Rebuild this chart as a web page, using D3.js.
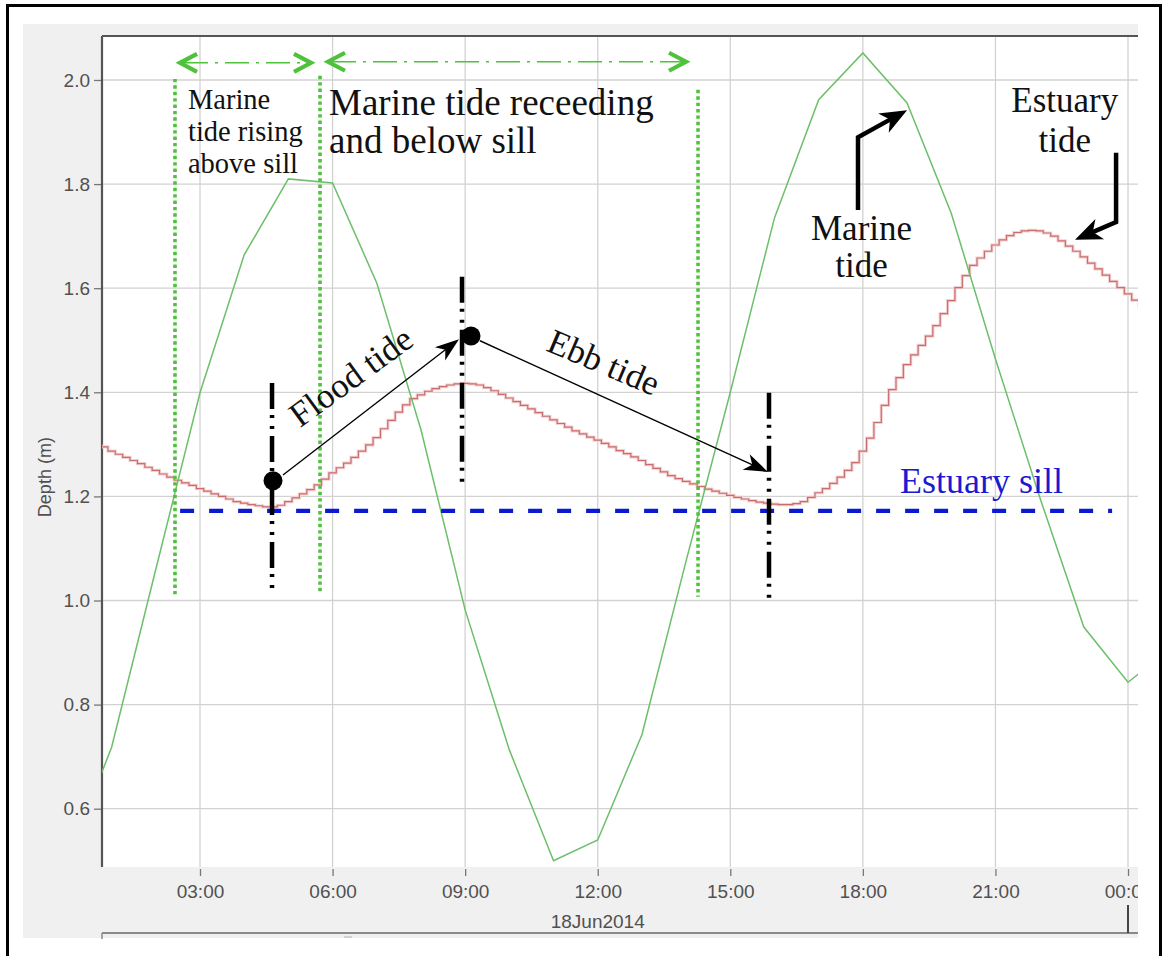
<!DOCTYPE html>
<html><head><meta charset="utf-8">
<script src="https://cdn.jsdelivr.net/npm/d3@7"></script>
<style>
html,body{margin:0;padding:0;background:#fff;}
svg{display:block;}
</style></head>
<body>
<svg id="chart" width="1163" height="956"></svg>
<script>
// ---------------- data ----------------
const marineHours = [0,1,2,3,4,5,6,7,8,9,10,11,12,13,14,15,16,17,18,19,20,21,22,23,24,25];
const marineDepth = [0.50,0.718,1.06,1.399,1.664,1.81,1.802,1.61,1.328,0.982,0.713,0.50,0.540,0.742,1.076,1.40,1.735,1.962,2.052,1.956,1.744,1.464,1.199,0.949,0.843,0.91];

// estuary gauge, 10-minute readings starting 00:40
const estuaryFirstReading = [0, 40]; // hour, minute
const estuaryDepth = [
  1.299,1.295,
  1.287,1.281,1.275,1.269,1.263,1.256,
  1.250,1.243,1.237,1.231,1.226,1.221,
  1.215,1.210,1.205,1.200,1.195,1.190,
  1.187,1.184,1.182,1.180,1.180,1.183,
  1.190,1.197,1.205,1.213,1.222,1.233,
  1.245,1.255,1.264,1.275,1.287,1.299,
  1.313,1.330,1.346,1.362,1.376,1.388,
  1.395,1.402,1.407,1.411,1.414,1.416,
  1.417,1.416,1.414,1.409,1.403,1.396,
  1.389,1.382,1.375,1.368,1.361,1.354,
  1.347,1.340,1.333,1.326,1.320,1.314,
  1.308,1.302,1.295,1.288,1.282,1.276,
  1.269,1.261,1.254,1.247,1.240,1.234,
  1.229,1.224,1.219,1.214,1.210,1.206,
  1.202,1.198,1.195,1.192,1.189,1.187,
  1.185,1.184,1.184,1.186,1.190,1.198,
  1.207,1.215,1.225,1.237,1.250,1.265,
  1.287,1.312,1.342,1.375,1.405,1.428,
  1.453,1.472,1.490,1.508,1.528,1.551,
  1.576,1.601,1.624,1.644,1.658,1.671,
  1.683,1.693,1.701,1.707,1.710,1.711,
  1.710,1.706,1.700,1.691,1.681,1.671,
  1.660,1.648,1.637,1.625,1.613,1.601,
  1.589,1.577,1.565
];

const sillDepth = 1.172;
const sillHours = [2.55, 23.64];

const yTicks = [0.6,0.8,1.0,1.2,1.4,1.6,1.8,2.0];
const xTickHours = [3,6,9,12,15,18,21,24];
const dateLabel = "18Jun2014";
const yLabel = "Depth (m)";

// ---------------- setup ----------------
const day0 = new Date(2014,5,18,0,0,0);
const T = h => new Date(day0.getTime() + h*3600e3);

const L = 102, R = 1138, TOP = 36, BOT = 867;
const x = d3.scaleTime().domain([T(0.7823), T(24.226)]).range([L, R]);
const y = d3.scaleLinear().domain([0.488, 2.0845]).range([BOT, TOP]);
const X = h => x(T(h));

const svg = d3.select("#chart");
const serif = "'Liberation Serif','Times New Roman',serif";
const sans = "'Liberation Sans',Arial,sans-serif";

// frame
svg.append("rect").attr("x",7.5).attr("y",5.5).attr("width",1153).attr("height",953)
  .attr("fill","#fff").attr("stroke","#000").attr("stroke-width",3);
// grey panel
svg.append("rect").attr("x",23).attr("y",24).attr("width",R-23).attr("height",914).attr("fill","#f0f0f0");
// plot area
svg.append("rect").attr("x",L).attr("y",TOP).attr("width",R-L).attr("height",BOT-TOP).attr("fill","#fff");

const defs = svg.append("defs");
defs.append("clipPath").attr("id","plotclip").append("rect")
  .attr("x",L).attr("y",TOP).attr("width",R-L).attr("height",BOT-TOP);
defs.append("clipPath").attr("id","axisclip").append("rect")
  .attr("x",0).attr("y",0).attr("width",R).attr("height",956);

// grid
const grid = svg.append("g");
grid.selectAll("line.h").data(yTicks).join("line")
  .attr("x1",L).attr("x2",R).attr("y1",d=>y(d)).attr("y2",d=>y(d))
  .attr("stroke","#d2d2d2").attr("stroke-width",1.3);
grid.selectAll("line.v").data(xTickHours).join("line")
  .attr("x1",d=>X(d)).attr("x2",d=>X(d)).attr("y1",TOP).attr("y2",BOT)
  .attr("stroke","#d2d2d2").attr("stroke-width",1.3);

// y axis
const yAxis = svg.append("g").attr("transform",`translate(${L},0)`)
  .call(d3.axisLeft(y).tickValues(yTicks).tickFormat(d3.format(".1f")).tickSize(8).tickPadding(4));
yAxis.select(".domain").remove();
yAxis.selectAll(".tick line").attr("stroke","#777").attr("stroke-width",1.3);
yAxis.selectAll(".tick text").attr("fill","#505050").style("font-family",sans).style("font-size","19px");

// x axis
const xAxis = svg.append("g").attr("transform",`translate(0,${BOT+2})`).attr("clip-path","url(#axisclip)")
  .call(d3.axisBottom(x).tickValues(xTickHours.map(T)).tickFormat(d3.timeFormat("%H:%M")).tickSize(7).tickPadding(9));
xAxis.select(".domain").remove();
xAxis.selectAll(".tick line").attr("stroke","#777").attr("stroke-width",1.3);
xAxis.selectAll(".tick text").attr("fill","#505050").style("font-family",sans).style("font-size","19px");

svg.append("text").attr("x",X(12)).attr("y",928).attr("text-anchor","middle")
  .attr("fill","#505050").style("font-family",sans).style("font-size","19px").text(dateLabel);
svg.append("line").attr("x1",L).attr("x2",R).attr("y1",933).attr("y2",933).attr("stroke","#8a8a8a").attr("stroke-width",2);
svg.append("line").attr("x1",L).attr("x2",L).attr("y1",933).attr("y2",939).attr("stroke","#8a8a8a").attr("stroke-width",1.5);
svg.append("line").attr("x1",X(24)).attr("x2",X(24)).attr("y1",905).attr("y2",933).attr("stroke","#444").attr("stroke-width",2);
svg.append("line").attr("x1",344).attr("x2",352).attr("y1",937).attr("y2",937).attr("stroke","#c8c8c8").attr("stroke-width",1.5);

// y label
svg.append("text").attr("transform",`translate(51,${y(1.237)}) rotate(-90)`).attr("text-anchor","middle")
  .attr("fill","#505050").style("font-family",sans).style("font-size","18px").text(yLabel);

// frame lines of plot
svg.append("line").attr("x1",L).attr("x2",R).attr("y1",TOP).attr("y2",TOP).attr("stroke","#555").attr("stroke-width",2.2);
svg.append("line").attr("x1",L).attr("x2",L).attr("y1",TOP).attr("y2",BOT).attr("stroke","#555").attr("stroke-width",2.2);

// ---------------- series ----------------
const plot = svg.append("g").attr("clip-path","url(#plotclip)");

const marine = marineHours.map((h,i)=>({t:T(h), v:marineDepth[i]}));
const estStart = estuaryFirstReading[0] + estuaryFirstReading[1]/60;
const estTimes = d3.timeMinute.every(10).range(T(estStart), T(estStart + estuaryDepth.length/6));
const estuary = estuaryDepth.map((v,i)=>({t:estTimes[i], v}));

const estLine = d3.line().x(d=>x(d.t)).y(d=>y(d.v)).curve(d3.curveStep);
plot.append("path").datum(estuary).attr("d", estLine)
  .attr("fill","none").attr("stroke","#f5d2d2").attr("stroke-width",3.2);
plot.append("path").datum(estuary).attr("d", estLine)
  .attr("fill","none").attr("stroke","#c96e6e").attr("stroke-width",1.2);

plot.append("path").datum(marine)
  .attr("d", d3.line().x(d=>x(d.t)).y(d=>y(d.v)))
  .attr("fill","none").attr("stroke","#6dbf6a").attr("stroke-width",1.5);

// sill
plot.append("line").attr("x1",X(sillHours[0])).attr("x2",X(sillHours[1]))
  .attr("y1",y(sillDepth)).attr("y2",y(sillDepth))
  .attr("stroke","#0a1ad0").attr("stroke-width",4.2).attr("stroke-dasharray","14,15");

// ---------------- annotations ----------------
const ann = svg.append("g");
const periodLines = [{h:2.434,v1:2.002,v2:1.011},{h:5.716,v1:2.008,v2:1.017},{h:14.27,v1:1.981,v2:1.007}];
ann.selectAll("line.pl").data(periodLines).join("line")
  .attr("x1",d=>X(d.h)).attr("x2",d=>X(d.h)).attr("y1",d=>y(d.v1)).attr("y2",d=>y(d.v2))
  .attr("stroke","#4fc23c").attr("stroke-width",3.6).attr("stroke-dasharray","3.4,3");

const periodArrows = [{h1:2.502,h2:5.557,v:2.033},{h1:5.851,h2:14.043,v:2.035}];
periodArrows.forEach(a=>{
  const x1=X(a.h1), x2=X(a.h2), yy=y(a.v);
  ann.append("line").attr("x1",x1+6).attr("x2",x2-6).attr("y1",yy).attr("y2",yy)
    .attr("stroke","#4fc23c").attr("stroke-width",1.6).attr("stroke-dasharray","24,7,3,7");
  ann.append("path").attr("d",`M${x1+19},${yy-9} L${x1+2},${yy} L${x1+19},${yy+9}`)
    .attr("fill","none").attr("stroke","#4fc23c").attr("stroke-width",4.2).attr("stroke-linejoin","miter");
  ann.append("path").attr("d",`M${x2-19},${yy-9} L${x2-2},${yy} L${x2-19},${yy+9}`)
    .attr("fill","none").attr("stroke","#4fc23c").attr("stroke-width",4.2).attr("stroke-linejoin","miter");
});

const phaseLines = [{h:4.63,v1:1.418,v2:1.011},{h:8.929,v1:1.622,v2:1.216},{h:15.876,v1:1.399,v2:0.995}];
ann.selectAll("line.ph").data(phaseLines).join("line")
  .attr("x1",d=>X(d.h)).attr("x2",d=>X(d.h)).attr("y1",d=>y(d.v1)).attr("y2",d=>y(d.v2))
  .attr("stroke","#000").attr("stroke-width",4.5).attr("stroke-dasharray","26,6,3,8,3,7");

function head(x1,y1,x2,y2,len,wid){
  const a = Math.atan2(y2-y1,x2-x1), c=Math.cos(a), s=Math.sin(a);
  const p = (u,v)=>[x2 + u*c - v*s, y2 + u*s + v*c];
  const pts=[p(0,0),p(-len,-wid/2),p(-len*0.72,0),p(-len,wid/2)];
  return "M"+pts.map(q=>q.join(",")).join("L")+"Z";
}

const phaseArrows = [{h1:4.878,v1:1.241,h2:8.861,v2:1.502},{h1:9.336,v1:1.499,h2:15.853,v2:1.247}];
phaseArrows.forEach(a=>{
  const x1=X(a.h1),y1=y(a.v1),x2=X(a.h2),y2=y(a.v2);
  const ang=Math.atan2(y2-y1,x2-x1);
  ann.append("line").attr("x1",x1).attr("y1",y1).attr("x2",x2-14*Math.cos(ang)).attr("y2",y2-14*Math.sin(ang))
    .attr("stroke","#000").attr("stroke-width",1.4);
  ann.append("path").attr("d",head(x1,y1,x2,y2,24,17)).attr("fill","#000");
});

const phasePoints = [{h:4.652,v:1.230},{h:9.133,v:1.508}];
ann.selectAll("circle").data(phasePoints).join("circle")
  .attr("cx",d=>X(d.h)).attr("cy",d=>y(d.v)).attr("r",9.5).attr("fill","#000");

// label arrows (thick)
const labelArrows = [
  [{h:17.89,v:1.750},{h:17.89,v:1.890},{h:19.0,v:1.942}],
  [{h:23.73,v:1.860},{h:23.73,v:1.727},{h:22.80,v:1.693}]
];
labelArrows.forEach(pts=>{
  const P = pts.map(p=>[X(p.h),y(p.v)]);
  const [a,b]=[P[P.length-2],P[P.length-1]];
  const ang=Math.atan2(b[1]-a[1],b[0]-a[0]);
  const end=[b[0]-18*Math.cos(ang), b[1]-18*Math.sin(ang)];
  ann.append("path").attr("d","M"+P.slice(0,-1).map(q=>q.join(",")).join("L")+"L"+end.join(","))
    .attr("fill","none").attr("stroke","#000").attr("stroke-width",4.5).attr("stroke-linejoin","miter");
  ann.append("path").attr("d",head(a[0],a[1],b[0],b[1],27,22)).attr("fill","#000");
});

// texts
const texts = [
  {h:2.728, lines:[["Marine",1.944],["tide rising",1.882],["above sill",1.821]], size:28.5, anchor:"start", fill:"#111"},
  {h:5.92, lines:[["Marine tide receeding",1.933],["and below sill",1.860]], size:37, anchor:"start", fill:"#111"},
  {h:17.97, lines:[["Marine",1.693],["tide",1.622]], size:35, anchor:"middle", fill:"#111"},
  {h:22.57, lines:[["Estuary",1.939],["tide",1.862]], size:35, anchor:"middle", fill:"#111"},
  {h:18.84, lines:[["Estuary sill",1.207]], size:36, anchor:"start", fill:"#1a1ad0"}
];
texts.forEach(tb=>{
  tb.lines.forEach(([s,v])=>{
    ann.append("text").attr("x",X(tb.h)).attr("y",y(v)).attr("text-anchor",tb.anchor)
      .attr("fill",tb.fill).style("font-family",serif).style("font-size",tb.size+"px").text(s);
  });
});
const rotTexts = [
  {s:"Flood tide", h:5.263, v:1.331, rot:-36, size:35},
  {s:"Ebb tide", h:10.808, v:1.481, rot:23, size:35}
];
rotTexts.forEach(r=>{
  ann.append("text").attr("transform",`translate(${X(r.h)},${y(r.v)}) rotate(${r.rot})`)
    .attr("fill","#111").style("font-family",serif).style("font-size",r.size+"px").text(r.s);
});
</script>
</body></html>
